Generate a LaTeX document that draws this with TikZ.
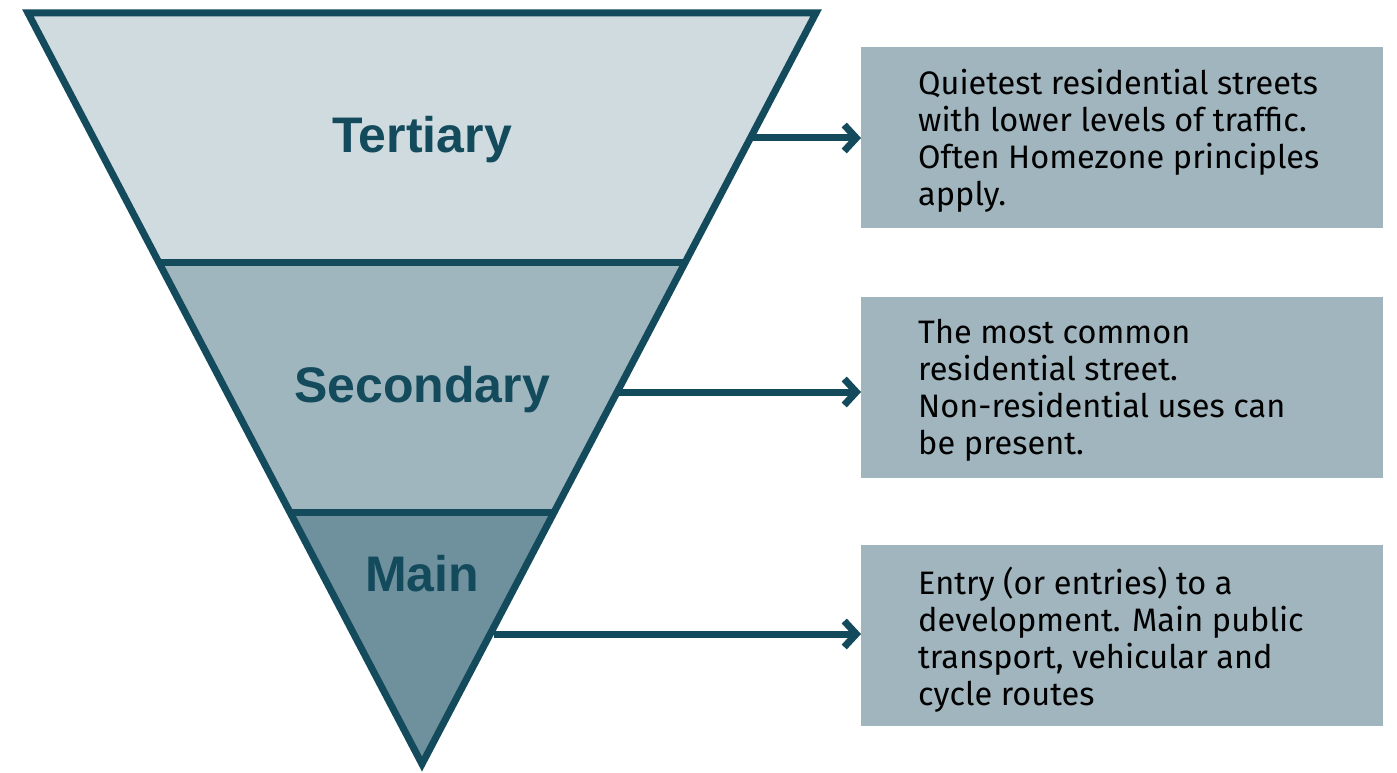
\documentclass[tikz,border=0pt]{standalone}
\usepackage{fontspec}
\usetikzlibrary{arrows.meta}
\setmainfont{Fira Sans}
\newfontfamily\labelfont{Liberation Sans}
\definecolor{stroke}{HTML}{134A5C}
\definecolor{tert}{HTML}{D0DBE0}
\definecolor{sec}{HTML}{A0B6BF}
\definecolor{mainc}{HTML}{6F919E}
\definecolor{boxc}{HTML}{A0B5BE}
\begin{document}
\begin{tikzpicture}[x=1pt,y=-1pt,
  band/.style={draw=stroke,line width=7pt,line join=miter},
  lvl/.style={font=\labelfont\bfseries\fontsize{50}{56}\selectfont,text=stroke},
  desc/.style={fill=boxc,minimum width=522pt,minimum height=181pt,anchor=north west,inner sep=0pt},
  desctext/.style={anchor=north west,align=left,font=\fontsize{32.5}{37}\selectfont,text=black,inner sep=0pt},
  conn/.style={draw=stroke,line width=7pt,-{Straight Barb[length=12pt,width=26pt,line width=7pt]}}
]
\useasboundingbox (0,0) rectangle (1397,773);
% triangle coordinates
\coordinate (TL) at (28,13);
\coordinate (TR) at (816,13);
\coordinate (AP) at (422,764);
\coordinate (L1) at (159,262);
\coordinate (R1) at (685,262);
\coordinate (L2) at (290,512);
\coordinate (R2) at (554,512);
% bands
\fill[tert] (TL) -- (TR) -- (R1) -- (L1) -- cycle;
\fill[sec] (L1) -- (R1) -- (R2) -- (L2) -- cycle;
\fill[mainc] (L2) -- (R2) -- (AP) -- cycle;
\draw[band] (TL) -- (TR) -- (AP) -- cycle;
\draw[band] (L1) -- (R1);
\draw[band] (L2) -- (R2);
% labels
\node[lvl] (t) at (422,140) {Tertiary};
\node[lvl] (s) at (422,390) {Secondary};
\node[lvl] (m) at (422,574) {Main};
% boxes
\node[desc] (b1) at (861,47) {};
\node[desc] (b2) at (861,297) {};
\node[desc] (b3) at (861,545) {};
\node[desctext] (d1) at (918,69) {Quietest residential streets\\with lower levels of traffic.\\Often Homezone principles\\apply.};
\node[desctext] (d2) at (918,319) {The most common\\residential street.\\Non-residential uses can\\be present.};
\node[desctext] (d3) at (918,567) {Entry (or entries) to a\\development. Main public\\transport, vehicular and\\cycle routes};
% connectors
\coordinate (a1) at (752,138);
\coordinate (a2) at (618,392);
\coordinate (a3) at (494,634);
\draw[conn] (a1) -- (a1 -| b1.west);
\draw[conn] (a2) -- (a2 -| b2.west);
\draw[conn] (a3) -- (a3 -| b3.west);
\end{tikzpicture}
\end{document}
